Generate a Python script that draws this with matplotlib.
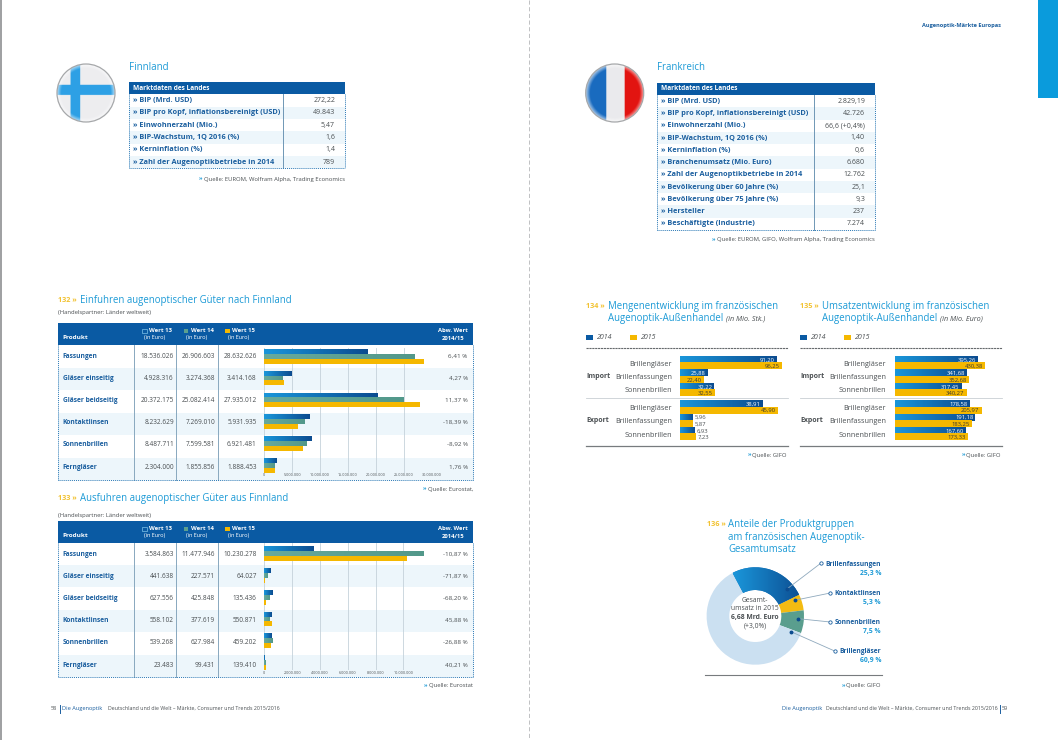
import numpy as np
import matplotlib
matplotlib.use("Agg")
import matplotlib.pyplot as plt
from matplotlib.colors import LinearSegmentedColormap
from matplotlib.patches import Circle, Rectangle
from matplotlib.ticker import FuncFormatter

plt.rcParams['font.family'] = ['Open Sans', 'DejaVu Sans']

# Daten
finnland_labels = ["BIP (Mrd. USD)", "BIP pro Kopf, inflationsbereinigt (USD)", "Einwohnerzahl (Mio.)",
                   "BIP-Wachstum, 1Q 2016 (%)", "Kerninflation (%)", "Zahl der Augenoptikbetriebe in 2014"]
finnland_values = ["272,22", "49.843", "5,47", "1,6", "1,4", "789"]
frankreich_labels = ["BIP (Mrd. USD)", "BIP pro Kopf, inflationsbereinigt (USD)", "Einwohnerzahl (Mio.)",
                     "BIP-Wachstum, 1Q 2016 (%)", "Kerninflation (%)", "Branchenumsatz (Mio. Euro)",
                     "Zahl der Augenoptikbetriebe in 2014", "Bevölkerung über 60 Jahre (%)",
                     "Bevölkerung über 75 Jahre (%)", "Hersteller", "Beschäftigte (Industrie)"]
frankreich_values = ["2.829,19", "42.726", "66,6 (+0,4%)", "1,40", "0,6", "6.680", "12.762",
                     "25,1", "9,3", "237", "7.274"]

produkte = ["Fassungen", "Gläser einseitig", "Gläser beidseitig", "Kontaktlinsen", "Sonnenbrillen", "Ferngläser"]
ein_13 = [18536026, 4928316, 20372175, 8232629, 8487711, 2304000]
ein_14 = [26906603, 3274368, 25082414, 7269010, 7599581, 1855856]
ein_15 = [28632626, 3414168, 27935012, 5931935, 6921481, 1888453]
ein_abw = [6.41, 4.27, 11.37, -18.39, -8.92, 1.76]
ein_ticks = [0, 5000000, 10000000, 15000000, 20000000, 25000000, 30000000]
aus_13 = [3584863, 441638, 627556, 558102, 539268, 23483]
aus_14 = [11477946, 227571, 425848, 377619, 627984, 99431]
aus_15 = [10230278, 64027, 135436, 550871, 459202, 139410]
aus_abw = [-10.87, -71.87, -68.20, 45.88, -26.88, 40.21]
aus_ticks = [0, 2000000, 4000000, 6000000, 8000000, 10000000]

warengruppen = ["Brillengläser", "Brillenfassungen", "Sonnenbrillen"]
menge_imp_14 = [91.20, 25.88, 32.22]
menge_imp_15 = [96.25, 22.40, 32.55]
menge_exp_14 = [38.91, 5.96, 6.93]
menge_exp_15 = [45.90, 5.87, 7.23]
umsatz_imp_14 = [395.26, 341.68, 317.45]
umsatz_imp_15 = [430.38, 352.68, 340.27]
umsatz_exp_14 = [178.58, 191.18, 167.60]
umsatz_exp_15 = [205.97, 183.25, 173.33]

anteil_namen = ["Brillenfassungen", "Kontaktlinsen", "Sonnenbrillen", "Brillengläser"]
anteil_werte = [25.3, 5.3, 7.5, 60.9]

# Farben
HEAD = '#0a5aa3'
CYAN = '#1c9ad6'
LABEL = '#1b5f9f'
GREY = '#4a4f52'
ROW = '#edf6fb'
YELLOW = '#f5b800'
ORANGE = '#f2c230'
blue_cm = LinearSegmentedColormap.from_list('b', ['#1a96da', '#0c4c90'])
green_cm = LinearSegmentedColormap.from_list('g', ['#68aa9c', '#52988a'])
yellow_cm = LinearSegmentedColormap.from_list('y', [YELLOW, YELLOW])

W, H = 1058, 740
fig = plt.figure(figsize=(W / 100, H / 100), dpi=100, facecolor='white')


def px_axes(x0, y0, x1, y1, zorder=2):
    ax = fig.add_axes([x0 / W, 1 - y1 / H, (x1 - x0) / W, (y1 - y0) / H], zorder=zorder)
    ax.patch.set_visible(False)
    return ax


page = px_axes(0, 0, W, H, zorder=0)
page.set_xlim(0, W)
page.set_ylim(H, 0)
page.axis('off')
page.set_autoscale_on(False)
over = px_axes(0, 0, W, H, zorder=5)
over.set_xlim(0, W)
over.set_ylim(H, 0)
over.axis('off')


def txt(x, y, s, size=5.0, color=GREY, ha='left', weight='normal', style='normal', ax=None):
    return (ax or page).text(x, y, s, fontsize=size, color=color, ha=ha, va='center',
                             fontweight=weight, fontstyle=style)


def quelle(xr, y, s):
    t = txt(xr, y, s, size=4.2)
    t.set_ha('right')
    bb = t.get_window_extent(fig.canvas.get_renderer())
    txt(bb.x0 - 1.5, y, "»", size=4.2, color=CYAN, ha='right', weight='bold')


def titel(x_nr, x, y, nr, zeilen, size=6.9, zusatz=None):
    txt(x_nr, y, nr + " »", size=5.2, color=ORANGE, weight='bold')
    for i, z in enumerate(zeilen):
        t = txt(x, y + i * 12.2, z, size=size, color=CYAN)
    if zusatz:
        bb = t.get_window_extent(fig.canvas.get_renderer())
        txt(bb.x1 + 2.5, y + (len(zeilen) - 1) * 12.2 + 0.5, zusatz, size=5.2, style='italic')


def flagge(cx, cy, r, art):
    n = 120
    yy, xx = np.mgrid[-1:1:n * 1j, -1:1:n * 1j]
    img = np.ones((n, n, 3))
    if art == 'fi':
        img[:] = [0.93, 0.93, 0.94]
        img[(xx > -0.54) & (xx < -0.2)] = [0.18, 0.63, 0.90]
        img[(yy > -0.28) & (yy < 0.07)] = [0.18, 0.63, 0.90]
    else:
        img[xx < -0.31] = [0.10, 0.42, 0.75]
        img[(xx >= -0.31) & (xx < 0.33)] = [0.92, 0.92, 0.93]
        img[xx >= 0.33] = [0.89, 0.08, 0.07]
    rr = np.sqrt(xx ** 2 + yy ** 2)
    glanz = np.clip((rr - 0.86) / 0.14, 0, 1)[..., None] * 0.6
    img = img * (1 - glanz) + glanz
    im = page.imshow(img, extent=(cx - r, cx + r, cy + r, cy - r), aspect='auto', zorder=2)
    kreis = Circle((cx, cy), r, fc='none', ec='#a6a8aa', lw=0.9, zorder=3)
    page.add_patch(kreis)
    im.set_clip_path(kreis)


def marktdaten(x0, x1, xs, xv, y0, yh, dy, labels, werte):
    page.add_patch(Rectangle((x0, y0), x1 - x0, yh - y0, fc=HEAD, ec='none'))
    txt(x0 + 4, (y0 + yh) / 2, "Marktdaten des Landes", size=4.7, color='white', weight='bold')
    for i, (l, v) in enumerate(zip(labels, werte)):
        y = yh + i * dy
        if i % 2:
            page.add_patch(Rectangle((x0, y), x1 - x0, dy, fc=ROW, ec='none', zorder=0.5))
        txt(x0 + 4, y + dy / 2, "» " + l, size=5.3, color=LABEL, weight='bold')
        txt(xv, y + dy / 2, v, size=5.0, ha='right')
    yb = yh + len(labels) * dy
    page.plot([xs, xs], [yh, yb], color='#6f97b5', lw=0.7)
    for xx in (x0, x1):
        page.plot([xx, xx], [yh, yb], color='#2a78b5', lw=0.7, ls=(0, (1, 1)))
    page.plot([x0, x1], [yb, yb], color='#2a78b5', lw=0.7, ls=(0, (1, 1)))


def grad_balken(ax, y, w, h, cmap, zorder=3):
    ax.barh(y, w, height=h, color=cmap(0.5), zorder=zorder)
    g = np.linspace(0, 1, 64).reshape(1, -1)
    ax.imshow(g, extent=(0, w, y + h / 2, y - h / 2), aspect='auto', cmap=cmap, vmin=0, vmax=1, zorder=zorder + 0.1)


def handel(ytop, yhead, ybot, ybar0, dybar, axtop, axbot, xmax, a, b, c, abw, ticks, zeilen_y):
    x0, x1 = 58, 473
    page.add_patch(Rectangle((x0, ytop), x1 - x0, yhead - ytop, fc=HEAD, ec='none'))
    y_w, y_e = ytop + 7.7, ytop + 15
    txt(62.7, ytop + 14.7, "Produkt", size=4.6, color='white', weight='bold')
    for name, sw, xt, xc, col in (("Wert 13", 142.3, 148.7, 155, None), ("Wert 14", 184, 191, 196.7, '#5b9f8f'),
                                  ("Wert 15", 225.3, 232, 238.3, YELLOW)):
        page.add_patch(Rectangle((sw, y_w - 2.1), 4.3, 4.3, fc=col or HEAD, ec='#7fc4ea' if col is None else 'none', lw=0.5))
        txt(xt, y_w, name, size=4.3, color='white', weight='bold')
        txt(xc, y_e, "(in Euro)", size=4.0, color='white', ha='center')
    txt(452.7, y_w, "Abw. Wert", size=4.2, color='white', ha='center', weight='bold')
    txt(452.7, y_e, "2014/15", size=4.2, color='white', ha='center', weight='bold')

    hoehe = (ybot - yhead) / 6
    for i in (1, 3, 5):
        page.add_patch(Rectangle((x0, yhead + i * hoehe), x1 - x0, hoehe, fc=ROW, ec='none', zorder=0.5))
    for xs in (134.3, 176.3, 217.7):
        page.plot([xs, xs], [yhead, ybot], color='#88a8bf', lw=0.7)
    for xx in (x0, x1):
        page.plot([xx, xx], [yhead, ybot], color='#2a78b5', lw=0.7, ls=(0, (1, 1)))
    page.plot([x0, x1], [ybot, ybot], color='#2a78b5', lw=0.7, ls=(0, (1, 1)))

    for i, p in enumerate(produkte):
        y = zeilen_y[i]
        txt(62.7, y, p, size=4.8, color=LABEL, weight='bold')
        txt(174, y, f"{a[i]:,}".replace(",", "."), size=4.7, ha='right')
        txt(215.3, y, f"{b[i]:,}".replace(",", "."), size=4.7, ha='right')
        txt(256.7, y, f"{c[i]:,}".replace(",", "."), size=4.7, ha='right')
        txt(467.7, y, f"{abw[i]:.2f} %".replace(".", ","), size=4.5, ha='right')

    # Balken mit echter Achse
    ax = px_axes(264.3, axtop, 431.7, axbot)
    ax.set_autoscale_on(False)
    ypos = np.arange(6)
    ax.set_xlim(0, xmax)
    ax.set_ylim((axbot - ybar0) / dybar, (axtop - ybar0) / dybar)
    h = 4.9 / dybar
    for i in ypos:
        grad_balken(ax, i - h, a[i], h, blue_cm)
        grad_balken(ax, i, b[i], h, green_cm)
        grad_balken(ax, i + h, c[i], h, yellow_cm)
    ax.set_xticks(ticks)
    ax.xaxis.set_major_formatter(FuncFormatter(lambda v, _: f"{int(v):,}".replace(",", ".")))
    ax.tick_params(axis='x', length=0, labelsize=2.7, pad=0.4, labelcolor=GREY)
    ax.set_yticks([])
    ax.grid(axis='x', color='#c5d2da', lw=0.6, zorder=1)
    ax.set_axisbelow(True)
    for s in ax.spines.values():
        s.set_visible(False)
    return ax


def wert_label(ax, y, v, col, klein):
    s = f"{v:.2f}".replace(".", ",")
    if klein:
        ax.annotate(s, (v, y), xytext=(1.5, 0), textcoords='offset points', fontsize=4.2,
                    color=GREY, va='center', ha='left', zorder=6)
    else:
        ax.annotate(s, (v, y), xytext=(-1.2, 0), textcoords='offset points', fontsize=4.2,
                    color=col, va='center', ha='right', zorder=6)


def handel_fr(x_zero, x_lab, x_imp, x_end, imp14, imp15, exp14, exp15, skala_imp, skala_exp, klein_grenze):
    y0, unit = 363.2, 13.4
    teile = [(348, 398, imp14, imp15, skala_imp, [0, 1, 2]),
             (398, 445, exp14, exp15, skala_exp, [3.3, 4.3, 5.3])]
    for top, bot, w14, w15, sk, pos in teile:
        ax = px_axes(x_zero, top, x_zero + 110, bot)
        ax.set_autoscale_on(False)
        ax.set_xlim(0, 110 / sk)
        ax.set_ylim((bot - y0) / unit, (top - y0) / unit)
        h = 6.1 / unit
        for i, p in enumerate(pos):
            grad_balken(ax, p - 0.24, w14[i], h, blue_cm)
            grad_balken(ax, p + 0.24, w15[i], h, yellow_cm)
            wert_label(ax, p - 0.24, w14[i], 'white', w14[i] < klein_grenze)
            wert_label(ax, p + 0.24, w15[i], '#3c3a30', w15[i] < klein_grenze)
        ax.set_xticks([])
        ax.set_yticks(pos)
        ax.set_yticklabels(warengruppen, fontsize=5.2, color=GREY)
        ax.tick_params(axis='y', length=0, pad=(x_zero - x_lab) * 0.72)
        for s in ax.spines.values():
            s.set_visible(False)
        txt(x_imp, y0 + (pos[1]) * unit, "Import" if pos[0] == 0 else "Export", size=5.0, weight='bold')
    page.plot([x_imp, x_end], [347.7, 347.7], color='#666a6d', lw=0.8, ls=(0, (2, 0.6)))
    page.plot([x_imp, x_end], [398.3, 398.3], color='#c9cfd3', lw=0.6)
    page.plot([x_imp, x_end], [445.5, 445.5], color='#777b7e', lw=0.9)


# Seite
page.plot([0.7, 0.7], [0, H], color='#8d8f91', lw=1.2)
page.plot([529, 529], [0, H], color='#b5b7b9', lw=0.6, ls=(0, (5, 3)))
page.add_patch(Rectangle((1038, 0), 20, 98, fc='#0a9bdc', ec='none'))
txt(1001, 26, "Augenoptik-Märkte Europas", size=4.1, color=LABEL, ha='right', weight='bold')

# Finnland
flagge(86, 93, 29, 'fi')
txt(129, 67, "Finnland", size=7.0, color=CYAN)
marktdaten(129.3, 344.7, 283.3, 335, 82, 94.3, 12.33, finnland_labels, finnland_values)
quelle(345, 179, "Quelle: EUROM, Wolfram Alpha, Trading Economics")

# Frankreich
flagge(614.7, 93, 29, 'fr')
txt(657, 68, "Frankreich", size=6.9, color=CYAN)
marktdaten(657.3, 875, 814, 865, 82.7, 95, 12.27, frankreich_labels, frankreich_values)
quelle(875, 240, "Quelle: EUROM, GIFO, Wolfram Alpha, Trading Economics")

# 132
titel(58, 80, 300.7, "132", ["Einfuhren augenoptischer Güter nach Finnland"])
txt(58, 312.7, "(Handelspartner: Länder weltweit)", size=4.2)
handel(323, 345, 480, 356.3, 21.83, 348, 472.7, 30000000, ein_13, ein_14, ein_15, ein_abw, ein_ticks,
       [356.7, 378.7, 400.7, 422.7, 444.7, 467.7])
quelle(473, 489, "Quelle: Eurostat,")

# 133
titel(58, 80, 498.3, "133", ["Ausfuhren augenoptischer Güter aus Finnland"])
txt(58, 515, "(Handelspartner: Länder weltweit)", size=4.2)
handel(521, 542.7, 677, 553.8, 21.77, 543.3, 670, 12030000, aus_13, aus_14, aus_15, aus_abw, aus_ticks,
       [554, 576, 598.3, 620, 642.3, 665.7])
quelle(473, 685.7, "Quelle: Eurostat")

# 134
titel(586, 608, 306, "134", ["Mengenentwicklung im französischen", "Augenoptik-Außenhandel"], zusatz="(in Mio. Stk.)")
for xs, xt, j, c in ((586, 597, "2014", HEAD), (630, 641, "2015", YELLOW)):
    page.add_patch(Rectangle((xs, 334.5), 7.3, 5, fc=c, ec='none'))
    txt(xt, 337.2, j, size=5.0, style='italic')
handel_fr(680, 672, 586, 788, menge_imp_14, menge_imp_15, menge_exp_14, menge_exp_15, 1.053, 2.12, 15)
quelle(787, 455, "Quelle: GIFO")

# 135
titel(800, 822, 306, "135", ["Umsatzentwicklung im französischen", "Augenoptik-Außenhandel"], zusatz="(in Mio. Euro)")
for xs, xt, j, c in ((800, 811, "2014", HEAD), (844, 855, "2015", YELLOW)):
    page.add_patch(Rectangle((xs, 334.5), 7.3, 5, fc=c, ec='none'))
    txt(xt, 337.2, j, size=5.0, style='italic')
handel_fr(895, 886, 800, 1002, umsatz_imp_14, umsatz_imp_15, umsatz_exp_14, umsatz_exp_15, 0.209, 0.418, 0)
quelle(1001, 455, "Quelle: GIFO")

# 136
titel(706.7, 728, 525, "136", ["Anteile der Produktgruppen", "am französischen Augenoptik-", "Gesamtumsatz"])
ax = px_axes(755.3 - 48.7, 616 - 48.7, 755.3 + 48.7, 616 + 48.7)
keile, _ = ax.pie(anteil_werte, startangle=118, counterclock=False, radius=1,
                  colors=['#0f6fb8', '#f3bb12', '#5a9e8e', '#cbe0f1'],
                  wedgeprops=dict(width=1 - 26 / 48.7, linewidth=0))
ax.set_xlim(-1, 1)
ax.set_ylim(-1, 1)
verlauf = np.linspace(0, 1, 64).reshape(1, -1)
bild = ax.imshow(verlauf, extent=(-0.45, 1, -1, 1), aspect='auto', cmap=blue_cm, zorder=3)
bild.set_clip_path(keile[0])
ax.set_xlim(-1, 1)
ax.set_ylim(-1, 1)

for s, y, w in (("Gesamt-", 600.7, 'normal'), ("umsatz in 2015", 609, 'normal'),
                ("6,68 Mrd. Euro", 617.3, 'bold'), ("(+3,0%)", 625.7, 'normal')):
    txt(755, y, s, size=4.9, ha='center', weight=w, ax=over)

leader = [((787.3, 588.7), (820.7, 563.3), 564.3, 573.3),
          ((794.7, 600.3), (830.3, 593), 593.3, 602.3),
          ((798.3, 618.7), (830.3, 622), 622.3, 631.7),
          ((791, 631.7), (835.3, 651.3), 651.7, 660.7)]
for (p, q, y1, y2), name, w in zip(leader, anteil_namen, anteil_werte):
    over.plot([p[0], q[0]], [p[1], q[1]], color='#8fa9bd', lw=0.6, zorder=2)
    over.plot(*p, 'o', ms=1.8, color='#0c4c90', zorder=3)
    over.plot(*q, 'o', ms=2.4, mfc='white', mec=LABEL, mew=0.6, zorder=3)
    txt(881, y1, name, size=4.75, color=LABEL, ha='right', weight='bold', ax=over)
    txt(881, y2, f"{w:.1f} %".replace(".", ","), size=4.9, color=CYAN, ha='right', weight='bold', ax=over)

page.plot([705, 881.7], [675, 675], color='#777b7e', lw=0.8)
quelle(881, 685.7, "Quelle: GIFO")

# Fusszeile
txt(51, 708.7, "58", size=4.0)
page.plot([59.6, 59.6], [704.5, 713], color=LABEL, lw=0.7)
txt(62, 708.7, "Die Augenoptik", size=4.1, color=LABEL)
txt(108, 708.7, "Deutschland und die Welt – Märkte, Consumer und Trends 2015/2016", size=3.8)
txt(782, 708.7, "Die Augenoptik", size=4.1, color=LABEL)
txt(826, 708.7, "Deutschland und die Welt – Märkte, Consumer und Trends 2015/2016", size=3.8)
page.plot([999.5, 999.5], [704.5, 713], color=LABEL, lw=0.7)
txt(1001.5, 708.7, "59", size=4.0)

fig.savefig("out.png", dpi=100)
